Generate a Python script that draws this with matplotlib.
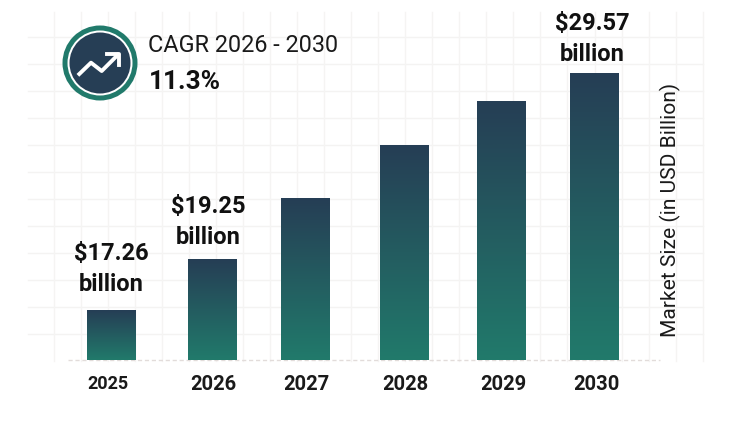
import numpy as np
from matplotlib import pyplot as plt
from matplotlib.patches import Circle

plt.rcParams['font.family'] = ['Roboto', 'DejaVu Sans']

years = ['2025', '2026', '2027', '2028', '2029', '2030']
# bars are not to scale in the original, so heights are read off the picture
bar_heights = [50, 101, 162, 215, 259, 287]
bar_centers = [111, 212, 305.5, 404.5, 501.5, 594.5]
year_x = [108, 213, 306, 405, 503, 596]
value_labels = ['$17.26\nbillion', '$19.25\nbillion', '$29.57\nbillion']
label_x = [111, 208.5, 592.5]
label_rows = [269, 222, 39]

navy = '#263e55'
green = '#217a6b'
BAR_W = 49
BASE = 360  # pixel row of the baseline
H = 426

fig = plt.figure(figsize=(7.4, 4.26), dpi=100)
ax = fig.add_axes([0, 0, 1, 1])
ax.set_xlim(0, 740)
ax.set_ylim(BASE - H, BASE)
ax.axis('off')

def py(row):
    return BASE - row

# background grid
for row in np.arange(37, 361, 27):
    ax.plot([28, 703], [py(row), py(row)], color='#f4f3f2', lw=1, zorder=1)
for col in np.arange(53.5, 703, 27.05):
    ax.plot([col, col], [py(12), py(361)], color='#f5f4f3', lw=1, zorder=1)
ax.plot([68, 660], [0, 0], color='#e2dcda', lw=1, ls=(0, (3, 2)), zorder=2)

# gradient bars
c_top = np.array(plt.matplotlib.colors.to_rgb(navy))
c_bot = np.array(plt.matplotlib.colors.to_rgb(green))
t = np.linspace(0, 1, 256)[:, None, None]
grad = c_top * (1 - t) + c_bot * t
for xc, h in zip(bar_centers, bar_heights):
    ax.imshow(grad, extent=(xc - BAR_W / 2, xc + BAR_W / 2, 0, h), aspect='auto', zorder=3)
ax.set_xlim(0, 740)
ax.set_ylim(BASE - H, BASE)

# labels
for x, year in zip(year_x, years):
    size = 13 if year == '2025' else 14.5
    ax.text(x, py(384), year, ha='center', va='center', fontsize=size, fontweight='bold', color='#1a1a1a', zorder=4)
for x, row, lab in zip(label_x, label_rows, value_labels):
    ax.text(x, py(row), lab, ha='center', va='center', fontsize=17, fontweight='bold',
            color='#111111', linespacing=1.48, zorder=4)

ax.text(670, py(210), 'Market Size (in USD Billion)', rotation=90, ha='center', va='center',
        fontsize=15.1, color='#1a1a1a', zorder=4)

# CAGR badge
ax.add_patch(Circle((100, py(63)), 37.5, fc=green, ec='none', zorder=4))
ax.add_patch(Circle((100, py(63)), 32.5, fc='white', ec='none', zorder=4))
ax.add_patch(Circle((100, py(63)), 30.5, fc=navy, ec='none', zorder=4))
ax.plot([79.3, 91, 101.7, 117.7], [py(74), py(62.7), py(71), py(55)], color='white', lw=2.8, zorder=5)
ax.plot([107, 118.5, 118.5], [py(53.5), py(53.5), py(65)], color='white', lw=2.8, zorder=5)
ax.text(148, py(46), 'CAGR 2026 - 2030', ha='left', va='center', fontsize=16.8, color='#1a1a1a', zorder=4)
ax.text(149, py(82), '11.3%', ha='left', va='center', fontsize=18.8, fontweight='bold', color='#111111', zorder=4)

fig.savefig('out.png', dpi=100)
